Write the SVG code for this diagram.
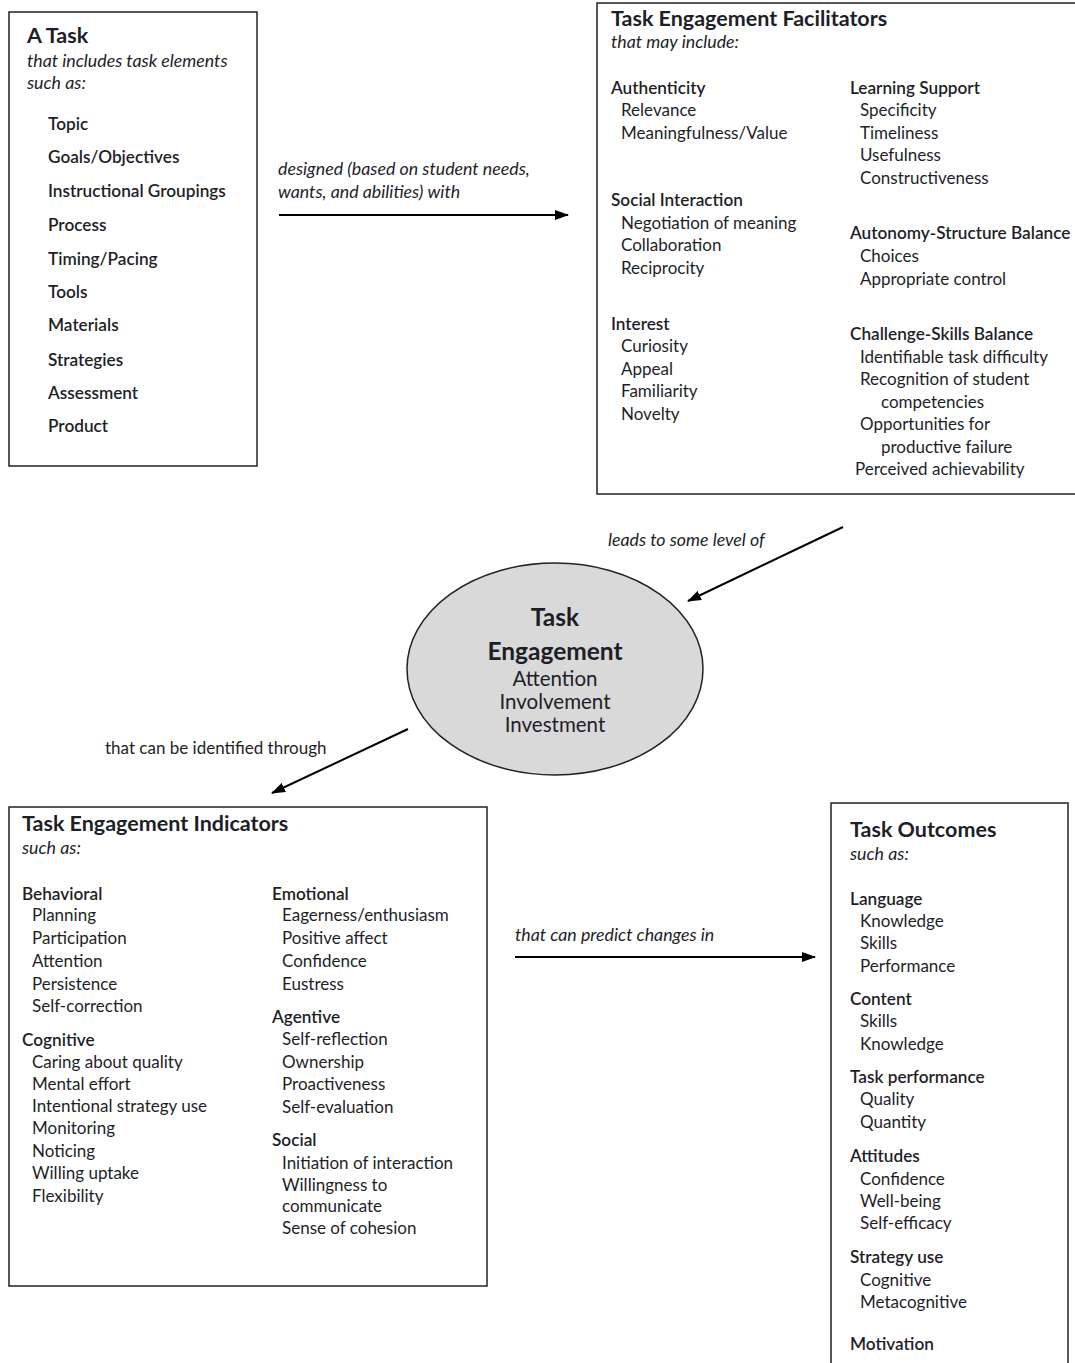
<svg xmlns="http://www.w3.org/2000/svg" width="1075" height="1363" viewBox="0 0 1075 1363">
<defs>
<style>
text{font-family:Lato,"Open Sans","Liberation Sans",sans-serif;fill:#1e1e28}
.box{fill:#fff;stroke:#222;stroke-width:1.5}
.t{font-size:21.5px;font-weight:bold}
.i{font-size:17.8px;font-style:italic}
.h{font-size:17.2px;font-weight:600}
.s{font-size:17px}
.a{font-size:17.2px;font-weight:600}
.ln{stroke:#000;stroke-width:2;fill:none;marker-end:url(#ah)}
</style>
<marker id="ah" viewBox="0 0 14 10" refX="13" refY="5" markerWidth="14" markerHeight="10" orient="auto" markerUnits="userSpaceOnUse">
<path d="M0,0 L14,5 L0,10 z" fill="#000"/>
</marker>
</defs>
<rect width="1075" height="1363" fill="#fff"/>

<g id="task">
<rect class="box" x="9" y="12" width="248" height="454"/>
<text class="t" x="27" y="43">A Task</text>
<text class="i" x="27" y="67">that includes task elements</text>
<text class="i" x="27" y="89">such as:</text>
<text class="a" x="48" y="130">Topic</text>
<text class="a" x="48" y="163">Goals/Objectives</text>
<text class="a" x="48" y="197">Instructional Groupings</text>
<text class="a" x="48" y="231">Process</text>
<text class="a" x="48" y="265">Timing/Pacing</text>
<text class="a" x="48" y="298">Tools</text>
<text class="a" x="48" y="331">Materials</text>
<text class="a" x="48" y="366">Strategies</text>
<text class="a" x="48" y="399">Assessment</text>
<text class="a" x="48" y="432">Product</text>
</g>

<g id="facilitators">
<rect class="box" x="597" y="3" width="490" height="491"/>
<text class="t" x="611" y="26">Task Engagement Facilitators</text>
<text class="i" x="611" y="48">that may include:</text>
<text class="h" x="611" y="94">Authenticity</text>
<text class="s" x="621" y="116">Relevance</text>
<text class="s" x="621" y="139">Meaningfulness/Value</text>
<text class="h" x="611" y="206">Social Interaction</text>
<text class="s" x="621" y="229">Negotiation of meaning</text>
<text class="s" x="621" y="251">Collaboration</text>
<text class="s" x="621" y="274">Reciprocity</text>
<text class="h" x="611" y="330">Interest</text>
<text class="s" x="621" y="352">Curiosity</text>
<text class="s" x="621" y="375">Appeal</text>
<text class="s" x="621" y="397">Familiarity</text>
<text class="s" x="621" y="420">Novelty</text>
<text class="h" x="850" y="94">Learning Support</text>
<text class="s" x="860" y="116">Specificity</text>
<text class="s" x="860" y="139">Timeliness</text>
<text class="s" x="860" y="161">Usefulness</text>
<text class="s" x="860" y="184">Constructiveness</text>
<text class="h" x="850" y="239">Autonomy-Structure Balance</text>
<text class="s" x="860" y="262">Choices</text>
<text class="s" x="860" y="285">Appropriate control</text>
<text class="h" x="850" y="340">Challenge-Skills Balance</text>
<text class="s" x="860" y="363">Identifiable task difficulty</text>
<text class="s" x="860" y="385">Recognition of student</text>
<text class="s" x="881" y="408">competencies</text>
<text class="s" x="860" y="430">Opportunities for</text>
<text class="s" x="881" y="453">productive failure</text>
<text class="s" x="855" y="475">Perceived achievability</text>
</g>

<g id="engagement">
<ellipse cx="555" cy="669" rx="148" ry="106" fill="#d9d9d9" stroke="#222" stroke-width="1.5"/>
<text x="555" y="626" text-anchor="middle" style="font-size:24.5px;font-weight:bold">Task</text>
<text x="555" y="660" text-anchor="middle" style="font-size:24.5px;font-weight:bold">Engagement</text>
<text x="555" y="686" text-anchor="middle" style="font-size:20.5px">Attention</text>
<text x="555" y="709" text-anchor="middle" style="font-size:20.5px">Involvement</text>
<text x="555" y="732" text-anchor="middle" style="font-size:20.5px">Investment</text>
</g>

<g id="indicators">
<rect class="box" x="9" y="807" width="478" height="479"/>
<text class="t" x="22" y="831">Task Engagement Indicators</text>
<text class="i" x="22" y="854">such as:</text>
<text class="h" x="22" y="900">Behavioral</text>
<text class="s" x="32" y="921">Planning</text>
<text class="s" x="32" y="944">Participation</text>
<text class="s" x="32" y="967">Attention</text>
<text class="s" x="32" y="990">Persistence</text>
<text class="s" x="32" y="1012">Self-correction</text>
<text class="h" x="22" y="1046">Cognitive</text>
<text class="s" x="32" y="1068">Caring about quality</text>
<text class="s" x="32" y="1090">Mental effort</text>
<text class="s" x="32" y="1112">Intentional strategy use</text>
<text class="s" x="32" y="1134">Monitoring</text>
<text class="s" x="32" y="1157">Noticing</text>
<text class="s" x="32" y="1179">Willing uptake</text>
<text class="s" x="32" y="1202">Flexibility</text>
<text class="h" x="272" y="900">Emotional</text>
<text class="s" x="282" y="921">Eagerness/enthusiasm</text>
<text class="s" x="282" y="944">Positive affect</text>
<text class="s" x="282" y="967">Confidence</text>
<text class="s" x="282" y="990">Eustress</text>
<text class="h" x="272" y="1023">Agentive</text>
<text class="s" x="282" y="1045">Self-reflection</text>
<text class="s" x="282" y="1068">Ownership</text>
<text class="s" x="282" y="1090">Proactiveness</text>
<text class="s" x="282" y="1113">Self-evaluation</text>
<text class="h" x="272" y="1146">Social</text>
<text class="s" x="282" y="1169">Initiation of interaction</text>
<text class="s" x="282" y="1191">Willingness to</text>
<text class="s" x="282" y="1212">communicate</text>
<text class="s" x="282" y="1234">Sense of cohesion</text>
</g>

<g id="outcomes">
<rect class="box" x="831" y="803" width="237" height="580"/>
<text class="t" x="850" y="837">Task Outcomes</text>
<text class="i" x="850" y="860">such as:</text>
<text class="h" x="850" y="905">Language</text>
<text class="s" x="860" y="927">Knowledge</text>
<text class="s" x="860" y="949">Skills</text>
<text class="s" x="860" y="972">Performance</text>
<text class="h" x="850" y="1005">Content</text>
<text class="s" x="860" y="1027">Skills</text>
<text class="s" x="860" y="1050">Knowledge</text>
<text class="h" x="850" y="1083">Task performance</text>
<text class="s" x="860" y="1105">Quality</text>
<text class="s" x="860" y="1128">Quantity</text>
<text class="h" x="850" y="1162">Attitudes</text>
<text class="s" x="860" y="1185">Confidence</text>
<text class="s" x="860" y="1207">Well-being</text>
<text class="s" x="860" y="1229">Self-efficacy</text>
<text class="h" x="850" y="1263">Strategy use</text>
<text class="s" x="860" y="1286">Cognitive</text>
<text class="s" x="860" y="1308">Metacognitive</text>
<text class="h" x="850" y="1350">Motivation</text>
</g>

<g id="connectors">
<line class="ln" x1="279" y1="215" x2="568" y2="215"/>
<text class="i" x="278" y="175">designed (based on student needs,</text>
<text class="i" x="278" y="198">wants, and abilities) with</text>
<line class="ln" x1="843" y1="527" x2="688" y2="601"/>
<text class="i" x="608" y="546">leads to some level of</text>
<line class="ln" x1="408" y1="729" x2="272" y2="793"/>
<text class="s" x="105" y="754">that can be identified through</text>
<line class="ln" x1="515" y1="957" x2="815" y2="957"/>
<text class="i" x="515" y="941">that can predict changes in</text>
</g>
</svg>
